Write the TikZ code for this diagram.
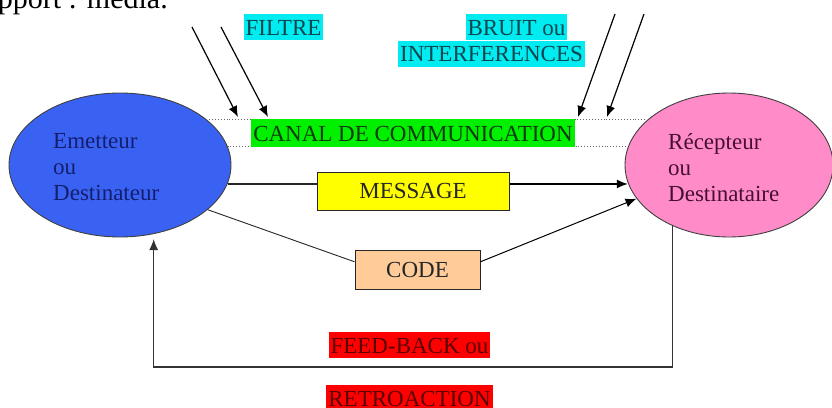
\documentclass[tikz,border=0pt]{standalone}
\usepackage{fontspec}
\setmainfont{Liberation Serif}
\usetikzlibrary{arrows.meta, positioning, shapes.geometric}

\definecolor{bleuemet}{RGB}{58,98,242}
\definecolor{roserecep}{RGB}{255,140,200}
\definecolor{vertcanal}{RGB}{0,240,0}
\definecolor{cyanbruit}{RGB}{0,236,240}
\definecolor{jaunemsg}{RGB}{255,255,0}
\definecolor{peche}{RGB}{255,204,153}
\definecolor{rougefb}{RGB}{255,0,0}
\definecolor{marine}{RGB}{20,30,110}
\definecolor{prune}{RGB}{70,15,50}
\definecolor{sarcelle}{RGB}{10,70,80}
\definecolor{vertfonce}{RGB}{10,60,10}
\definecolor{rougefonce}{RGB}{90,0,0}

\begin{document}
\begin{tikzpicture}[x=1pt, y=-1pt,
	txt/.style = {font=\fontsize{23}{26}\selectfont},
	bulle/.style = {ellipse, draw=black!75, line width=0.9pt, minimum height=144, inner sep=0},
	surl/.style = {txt, inner xsep=2, inner ysep=0, text height=21, text depth=5},
	cadre/.style = {txt, draw=black!85, line width=1pt, inner sep=0},
	fleche/.style = {-{Latex[length=11pt, width=9pt]}, line width=1.2pt},
	lien/.style = {line width=1.1pt, draw=black!85}]
	\useasboundingbox (0,0) rectangle (832,407);
	\node[txt, font=\fontsize{30}{36}\selectfont, anchor=base east, inner sep=0] (support) at (168,8) {pport : media.};
	% les deux bulles
	\node[bulle, fill=bleuemet, minimum width=222] (emet) at (120,165) {};
	\node[bulle, fill=roserecep, minimum width=208] (recep) at (729,165) {};
	\node[txt, text=marine, align=left, anchor=north west, inner sep=0] (emettxt) at (53,133) {Emetteur\\ou\\Destinateur};
	\node[txt, text=prune, align=left, anchor=north west, inner sep=0] (receptxt) at (668,133) {Récepteur\\ou\\Destinataire};
	% limites du canal
	\draw[dotted, black!60, line width=0.9pt] (emet.28) -- (emet.28 -| recep.152);
	\draw[dotted, black!60, line width=0.9pt] (emet.10) -- (emet.10 -| recep.170);
	\node[surl, fill=vertcanal, text=vertfonce, minimum width=324, minimum height=28] (canal) at (413,133) {CANAL DE COMMUNICATION};
	% perturbations
	\node[surl, fill=cyanbruit, text=sarcelle, minimum width=79] (filtre) at (283.5,27) {FILTRE};
	\node[surl, fill=cyanbruit, text=sarcelle, minimum width=99] (bruit) at (516.5,27) {BRUIT ou};
	\node[surl, fill=cyanbruit, text=sarcelle, minimum width=183] (interf) at (491.5,53.5) {INTERFERENCES};
	\coordinate (filtreA) at (192,27);
	\coordinate (filtreB) at (221,27);
	\coordinate (bruitA) at (615,14);
	\coordinate (bruitB) at (644,14);
	\coordinate (canalA) at (238,117);
	\coordinate (canalB) at (268,117);
	\coordinate (canalC) at (578,117);
	\coordinate (canalD) at (607,117);
	\foreach \d/\a in {filtreA/canalA, filtreB/canalB, bruitA/canalC, bruitB/canalD}
		\draw[fleche] (\d) -- (\a);
	% message et code
	\node[cadre, fill=jaunemsg, text=black!85, minimum width=192, minimum height=38] (msg) at (413,191) {MESSAGE};
	\node[cadre, fill=peche, text=black!85, minimum width=125, minimum height=39] (code) at (417.5,269.5) {CODE};
	\draw[lien] (emet.-10) -- (emet.-10 -| msg.west);
	\draw[fleche] (msg.east |- emet.-10) -- (emet.-10 -| recep.190);
	\draw[lien, line width=0.9pt] (emet.-27) -- (code.173);
	\draw[fleche, line width=1pt] (code.7) -- (recep.200);
	% retour
	\node[surl, fill=rougefb, text=rougefonce, minimum width=159] (feed) at (409.5,345) {FEED-BACK ou};
	\node[surl, fill=rougefb, text=rougefonce, minimum width=163, below=27pt of feed] (retro) {RETROACTION};
	\coordinate (fbbas) at (0,367);
	\draw[fleche, draw=black!80, line width=1.3pt, shorten >=5pt] (recep.227) |- (emet.-64 |- fbbas) -- (emet.-64);
\end{tikzpicture}
\end{document}
